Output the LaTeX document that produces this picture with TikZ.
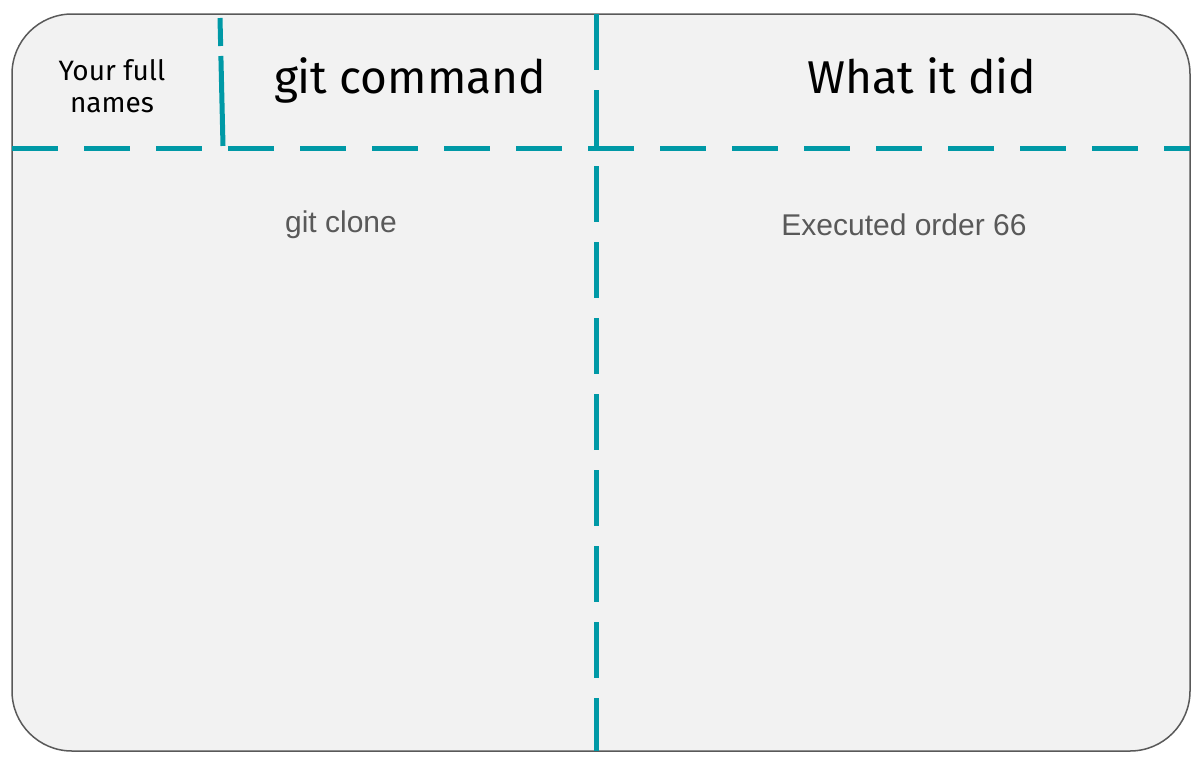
\documentclass[tikz,border=0pt]{standalone}
\usepackage{fontspec}
\setmainfont{Liberation Sans}
\newfontfamily\hand{Fira Sans}
\definecolor{teal1}{HTML}{0099A6}
\definecolor{bg}{HTML}{F2F2F2}
\definecolor{gr}{HTML}{595959}
\begin{document}
\begin{tikzpicture}[x=1pt,y=-1pt,
  dl/.style={teal1,line width=5pt,dash pattern=on 46pt off 26pt},
  hd/.style={font=\hand\fontsize{46}{50}\selectfont,text=black},
  bd/.style={font=\fontsize{30}{34}\selectfont,text=gr}]
\useasboundingbox (0,0) rectangle (1200,764);
\draw[gr,fill=bg,line width=1.5pt,rounded corners=60pt] (12,14) rectangle (1190,751);
\coordinate (hl) at (12,148); \coordinate (hr) at (1190,148);
\coordinate (vt) at (596,14); \coordinate (vb) at (596,751);
\coordinate (st) at (220,18); \coordinate (sb) at (223,146);
\draw[dl,dash phase=0pt] (hl) -- (hr);
\draw[dl,dash pattern=on 56pt off 20pt,dash phase=0pt] (vt) -- (vb);
\draw[dl,dash pattern=on 28pt off 10pt on 90pt off 10pt] (st) -- (sb);
\node[hd,font=\hand\fontsize{28}{32}\selectfont,align=center] (names) at (112,86) {Your full\\names};
\node[hd] (cmd) at (410,80) {git command};
\node[hd] (did) at (922,76) {What it did};
\node[bd] (clone) at (341,225) {git clone};
\node[bd] (exec) at (904,225) {Executed order 66};
\end{tikzpicture}
\end{document}
